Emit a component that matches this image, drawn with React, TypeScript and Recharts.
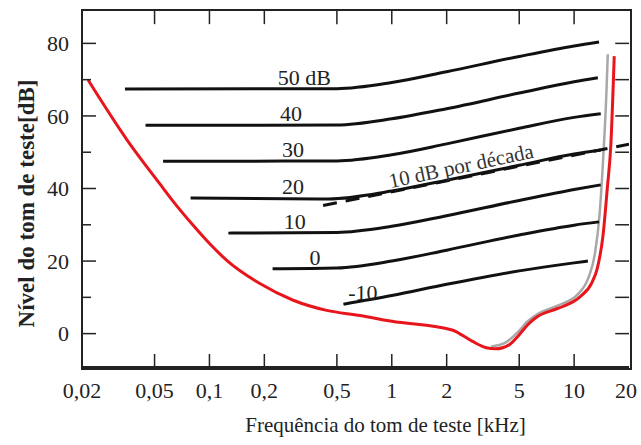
import { LineChart, Line, XAxis, YAxis, ReferenceDot, ReferenceLine } from 'recharts';

// frequency in kHz, level in dB
const X_TICKS = [0.02, 0.05, 0.1, 0.2, 0.5, 1, 2, 5, 10, 20];
const X_TICK_LABELS = ['0,02', '0,05', '0,1', '0,2', '0,5', '1', '2', '5', '10', '20'];
const Y_TICKS = [0, 10, 20, 30, 40, 50, 60, 70, 80];
const X_DOMAIN = [0.02, 20];
const Y_DOMAIN = [-9.2, 89.2];

const curve50 = [
  { f: 0.0344, db: 67.4 }, { f: 0.5, db: 67.5 }, { f: 1, db: 69.2 }, { f: 2, db: 72.2 },
  { f: 5, db: 76.4 }, { f: 10, db: 79.3 }, { f: 13.7, db: 80.4 },
];
const curve40 = [
  { f: 0.0446, db: 57.4 }, { f: 0.5, db: 57.5 }, { f: 1, db: 59.2 }, { f: 2, db: 62.0 },
  { f: 5, db: 66.3 }, { f: 10, db: 69.4 }, { f: 13.5, db: 70.5 },
];
const curve30 = [
  { f: 0.0557, db: 47.5 }, { f: 0.5, db: 47.6 }, { f: 1, db: 49.3 }, { f: 2, db: 52.3 },
  { f: 5, db: 56.6 }, { f: 10, db: 59.6 }, { f: 14, db: 60.6 },
];
const curve20 = [
  { f: 0.0788, db: 37.4 }, { f: 0.45, db: 37.1 }, { f: 1, db: 39.3 }, { f: 2, db: 42.3 },
  { f: 5, db: 46.4 }, { f: 10, db: 49.5 }, { f: 14, db: 50.6 },
];
const curve10 = [
  { f: 0.127, db: 27.7 }, { f: 0.5, db: 27.9 }, { f: 1, db: 29.6 }, { f: 2, db: 32.5 },
  { f: 5, db: 36.7 }, { f: 10, db: 39.7 }, { f: 14, db: 41.0 },
];
const curve0 = [
  { f: 0.222, db: 17.9 }, { f: 0.5, db: 18.1 }, { f: 1, db: 20.0 }, { f: 2, db: 23.0 },
  { f: 5, db: 27.2 }, { f: 10, db: 29.9 }, { f: 13.7, db: 30.8 },
];
const curveMinus10 = [
  { f: 0.543, db: 8.1 }, { f: 1, db: 10.5 }, { f: 2, db: 13.6 }, { f: 5, db: 17.3 },
  { f: 10, db: 19.5 }, { f: 11.9, db: 20.0 },
];

// "10 dB por década" reference
const slope10 = [{ f: 0.42, db: 35.3 }, { f: 20, db: 52.2 }];

// threshold in quiet (red)
const threshold = [
  { f: 0.0216, db: 69.9 }, { f: 0.0352, db: 53.5 }, { f: 0.0536, db: 41.2 }, { f: 0.0634, db: 36.4 },
  { f: 0.0816, db: 29.8 }, { f: 0.1007, db: 24.7 }, { f: 0.1244, db: 20.2 }, { f: 0.189, db: 13.8 },
  { f: 0.288, db: 9.2 }, { f: 0.44, db: 6.4 }, { f: 0.67, db: 5.0 }, { f: 1.0, db: 3.4 },
  { f: 2.14, db: 1.0 }, { f: 2.74, db: -2.0 }, { f: 3.3, db: -3.9 }, { f: 3.7, db: -4.2 },
  { f: 4.4, db: -3.1 }, { f: 5.0, db: -0.3 }, { f: 5.6, db: 2.6 }, { f: 6.3, db: 4.7 },
  { f: 8.2, db: 7.0 }, { f: 10.8, db: 10.2 }, { f: 12.5, db: 14 }, { f: 13.4, db: 18 },
  { f: 14.4, db: 27 }, { f: 15.2, db: 40 }, { f: 15.9, db: 52 }, { f: 16.6, db: 76.5 },
];
// grey trace next to the threshold curve
const thresholdShadow = [
  { f: 3.5, db: -3.6 }, { f: 4.2, db: -2.5 }, { f: 5.0, db: 0.8 }, { f: 5.5, db: 3.2 },
  { f: 6.3, db: 5.4 }, { f: 8.0, db: 7.6 }, { f: 10.5, db: 10.9 }, { f: 12.0, db: 15.5 },
  { f: 13.0, db: 22 }, { f: 13.8, db: 33 }, { f: 14.5, db: 50 }, { f: 15.0, db: 65 },
  { f: 15.3, db: 77 },
];

const curveLabels = [
  { text: '50 dB', f: 0.332, db: 67.4 },
  { text: '40', f: 0.28, db: 57.4 },
  { text: '30', f: 0.287, db: 47.5 },
  { text: '20', f: 0.287, db: 37.4 },
  { text: '10', f: 0.294, db: 27.7 },
  { text: '0', f: 0.379, db: 17.9 },
  { text: '-10', f: 0.695, db: 8.1 },
];

const FONT = "'Liberation Serif', 'Times New Roman', serif";
const AXIS = '#222';
const TEXT = '#222';

// chart fills the whole window (body margin removed below)
const CHART_W = 641;
const CHART_H = 445;
const MARGIN = { top: 10, right: 12, bottom: 0, left: 0 };
const X_AXIS_H = 78;
const Y_AXIS_W = 82;
const PLOT_W = CHART_W - MARGIN.left - MARGIN.right - Y_AXIS_W;
const PLOT_H = CHART_H - MARGIN.top - MARGIN.bottom - X_AXIS_H;

const TOP_TICK_DB = 3.9; // 14 px in dB
const RIGHT_TICK_FACTOR = 1.19; // 14 px on the log axis

const XTick = ({ x, y, payload }: any) => {
  const i = X_TICKS.findIndex((t) => Math.abs(t - payload.value) < 1e-9);
  const edge = i === 0 || i === X_TICKS.length - 1;
  const shift = i === X_TICKS.length - 1 ? -3 : 0;
  return (
    <g>
      {!edge && <line x1={x} x2={x} y1={y} y2={y - 13} stroke={AXIS} strokeWidth={1.5} />}
      <text x={x + shift} y={y + 31} textAnchor="middle" fontSize={22} fontFamily={FONT} fill={TEXT}>
        {X_TICK_LABELS[i]}
      </text>
    </g>
  );
};

const YTick = ({ x, y, payload }: any) => {
  const major = payload.value % 20 === 0;
  return (
    <g>
      <line x1={x} x2={x + (major ? 14 : 9)} y1={y} y2={y} stroke={AXIS} strokeWidth={1.5} />
      {major && (
        <text x={x - 13} y={y} dy="0.35em" textAnchor="end" fontSize={22} fontFamily={FONT} fill={TEXT}>
          {payload.value}
        </text>
      )}
    </g>
  );
};

const YTitle = ({ viewBox }: any) => {
  const cx = viewBox.x + 26;
  const cy = viewBox.y + viewBox.height / 2 + 15;
  return (
    <text x={cx} y={cy} transform={`rotate(-90 ${cx} ${cy})`} textAnchor="middle" dominantBaseline="central"
      fontSize={23} fontWeight="bold" fontFamily={FONT} fill={TEXT}>
      Nível do tom de teste[dB]
    </text>
  );
};

const XTitle = ({ viewBox }: any) => (
  <text x={viewBox.x + viewBox.width / 2 + 30} y={viewBox.y + 65} textAnchor="middle"
    fontSize={21} fontFamily={FONT} fill={TEXT}>
    Frequência do tom de teste [kHz]
  </text>
);

const SlopeLabel = ({ viewBox }: any) => {
  const cx = viewBox.x + (viewBox.width || 0) / 2;
  const cy = viewBox.y + (viewBox.height || 0) / 2;
  return (
    <text x={cx} y={cy} transform={`rotate(-12 ${cx} ${cy})`} textAnchor="middle" dominantBaseline="central"
      fontSize={21} fontFamily={FONT} fill="#333">
      10 dB por década
    </text>
  );
};

const blackCurves = [curve50, curve40, curve30, curve20, curve10, curve0, curveMinus10];

export default function App() {
  return (
    <div style={{ position: 'relative', width: CHART_W, height: CHART_H }}>
      <style>{'html,body{margin:0;padding:0;overflow:hidden;background:#fff}'}</style>
      <LineChart width={CHART_W} height={CHART_H} margin={MARGIN}>
        <XAxis
          dataKey="f" type="number" scale="log" domain={X_DOMAIN} allowDataOverflow
          ticks={X_TICKS} interval={0} tickSize={0} tickMargin={0} height={X_AXIS_H}
          axisLine={{ stroke: AXIS, strokeWidth: 2 }} tickLine={false} tick={<XTick />}
          label={<XTitle />}
        />
        <YAxis
          type="number" domain={Y_DOMAIN} allowDataOverflow ticks={Y_TICKS} interval={0}
          tickSize={0} tickMargin={0} width={Y_AXIS_W}
          axisLine={{ stroke: AXIS, strokeWidth: 2 }} tickLine={false} tick={<YTick />}
          label={<YTitle />}
        />

        {X_TICKS.slice(1, -1).map((t) => (
          <ReferenceLine key={`tt${t}`} ifOverflow="visible" stroke={AXIS} strokeWidth={1.5}
            segment={[{ x: t, y: Y_DOMAIN[1] }, { x: t, y: Y_DOMAIN[1] - TOP_TICK_DB }]} />
        ))}
        {Y_TICKS.map((v) => (
          <ReferenceLine key={`rt${v}`} ifOverflow="visible" stroke={AXIS} strokeWidth={1.5}
            segment={[{ x: X_DOMAIN[1], y: v }, { x: X_DOMAIN[1] / RIGHT_TICK_FACTOR, y: v }]} />
        ))}

        <Line data={thresholdShadow} dataKey="db" type="monotone"
          stroke="#a8a8a8" strokeWidth={2.5} dot={false} isAnimationActive={false} />
        {blackCurves.map((c, i) => (
          <Line key={i} data={c} dataKey="db" type="monotone" stroke="#111" strokeWidth={3}
            dot={false} isAnimationActive={false} />
        ))}
        <Line data={slope10} dataKey="db" type="linear" stroke="#111" strokeWidth={3}
          strokeDasharray="14 9" dot={false} isAnimationActive={false} />
        <Line data={threshold} dataKey="db" type="monotone" stroke="#e8161c" strokeWidth={3}
          dot={false} isAnimationActive={false} />

        {curveLabels.map((l) => (
          <ReferenceDot key={l.text} x={l.f} y={l.db} r={0} stroke="none" fill="none"
            label={{ value: l.text, position: 'top', offset: 4, fontSize: 22, fontFamily: FONT, fill: TEXT }} />
        ))}
        <ReferenceDot x={2.4} y={46.2} r={0} stroke="none" fill="none" label={<SlopeLabel />} />
      </LineChart>
      {/* box around the plot area */}
      <div
        style={{
          position: 'absolute',
          left: MARGIN.left + Y_AXIS_W - 1,
          top: MARGIN.top - 1,
          width: PLOT_W,
          height: PLOT_H,
          border: `2px solid ${AXIS}`,
          pointerEvents: 'none',
        }}
      />
    </div>
  );
}
